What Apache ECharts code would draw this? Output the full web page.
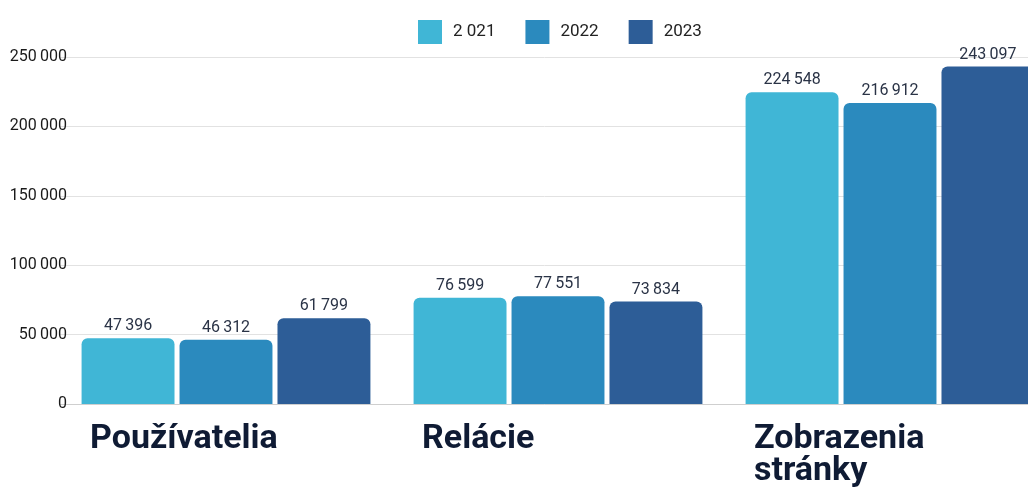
<!DOCTYPE html>
<html>
<head>
<meta charset="utf-8">
<script src="https://cdn.jsdelivr.net/npm/echarts@6/dist/echarts.min.js"></script>
<style>
  html, body { margin: 0; padding: 0; background: #fff; }
  #chart { width: 1028px; height: 493px; }
</style>
</head>
<body>
<div id="chart"></div>
<script>
const categories = ['Používatelia', 'Relácie', 'Zobrazenia\nstránky'];
const years = ['2 021', '2022', '2023'];
const values2021 = [47396, 76599, 224548];
const values2022 = [46312, 77551, 216912];
const values2023 = [61799, 73834, 243097];
const colors = ['#40b6d6', '#2b8abe', '#2d5d97'];

// thin space as thousands separator
const fmt = v => String(v).replace(/\B(?=(\d{3})+(?!\d))/g, '\u2009');

const chart = echarts.init(document.getElementById('chart'));

const makeSeries = (name, data, color) => ({
    name: name,
    type: 'bar',
    data: data,
    barGap: '5.4%',
    barCategoryGap: '13%',
    itemStyle: { color: color, borderRadius: [6, 6, 0, 0] },
    label: {
        show: true,
        position: 'top',
        distance: 4,
        color: '#2a3346',
        fontFamily: 'Roboto, sans-serif',
        fontSize: 16,
        formatter: p => fmt(p.value)
    }
});

chart.setOption({
    animation: false,
    color: colors,
    legend: {
        top: 15,
        left: 413,
        itemWidth: 24,
        itemHeight: 24,
        itemGap: 30,
        icon: 'rect',
        textStyle: { fontFamily: 'Roboto, sans-serif', fontSize: 17, color: '#222', padding: [0, 0, 0, 6] },
        data: years
    },
    // the last group runs past the right edge, like in the original
    grid: { left: 60, top: 57, width: 996, height: 347, outerBoundsMode: 'none', containLabel: false },
    xAxis: {
        type: 'category',
        data: categories,
        axisLine: { lineStyle: { color: '#cfcfcf' } },
        axisTick: { show: false },
        axisLabel: {
            margin: 19,
            interval: 0,
            formatter: v => '{a|' + v + '}',
            rich: {
                a: {
                    width: 272,
                    align: 'left',
                    fontFamily: 'Roboto, sans-serif',
                    fontWeight: 'bold',
                    fontSize: 34,
                    lineHeight: 32,
                    color: '#0f1b34'
                }
            }
        }
    },
    yAxis: {
        type: 'value',
        min: 0,
        max: 250000,
        interval: 50000,
        axisLine: { show: false },
        axisTick: { show: false },
        splitLine: { lineStyle: { color: '#e2e2e2' } },
        axisLabel: {
            margin: -7,
            color: '#1a1a1a',
            fontFamily: 'Roboto, sans-serif',
            fontSize: 16,
            formatter: v => fmt(v)
        }
    },
    series: [
        makeSeries(years[0], values2021, colors[0]),
        makeSeries(years[1], values2022, colors[1]),
        makeSeries(years[2], values2023, colors[2])
    ]
});
</script>
</body>
</html>
